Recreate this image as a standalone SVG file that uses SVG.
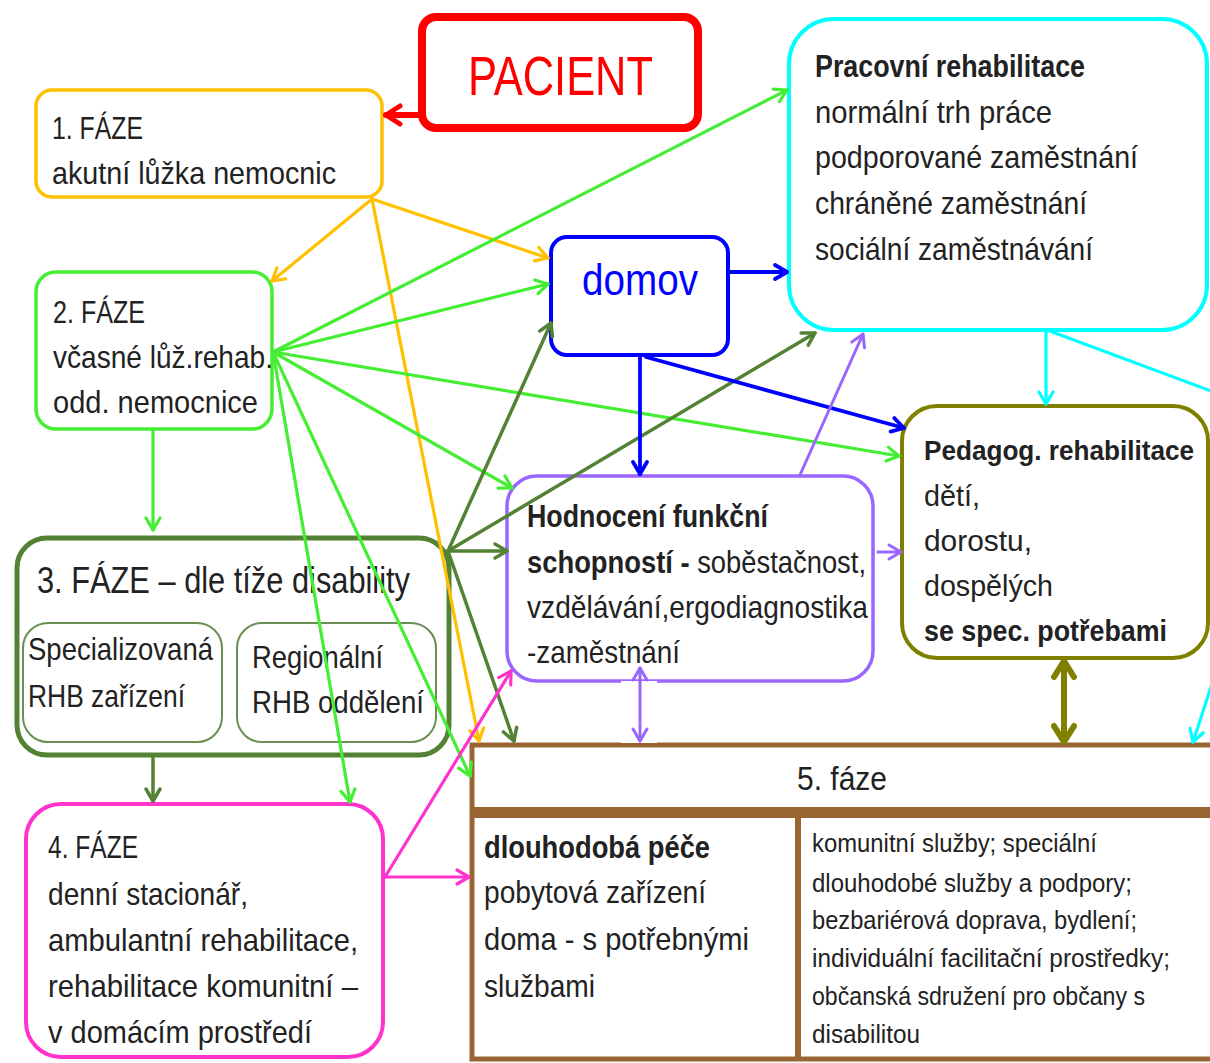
<svg xmlns="http://www.w3.org/2000/svg" width="1210" height="1063" viewBox="0 0 1210 1063">
<defs>
<style>
text{font-family:"Liberation Sans",Arial,sans-serif;fill:#222;font-size:32px}
.b{font-weight:bold}
.node{fill:#fff}
.c{fill:none;stroke-linecap:round;stroke-linejoin:round}
.or{stroke:#FFC000;stroke-width:3.2}
.gr{stroke:#44EE33;stroke-width:3.2}
.dg{stroke:#548235;stroke-width:3.5}
.bl{stroke:#0000FF;stroke-width:3.8}
.lv{stroke:#9966FF;stroke-width:3}
.ol{stroke:#808000;stroke-width:6}
.cy{stroke:#00FFFF;stroke-width:3.2}
.mg{stroke:#FF33CC;stroke-width:3.2}
.rd{stroke:#FF0000;stroke-width:6}
</style>
<marker id="a-or" viewBox="0 0 20 20" markerWidth="20" markerHeight="20" refX="16" refY="10" orient="auto-start-reverse" markerUnits="userSpaceOnUse"><path d="M4,3 L16,10 L4,17" fill="none" stroke="#FFC000" stroke-width="3.2" stroke-linecap="round" stroke-linejoin="round"/></marker>
<marker id="a-gr" viewBox="0 0 20 20" markerWidth="20" markerHeight="20" refX="16" refY="10" orient="auto-start-reverse" markerUnits="userSpaceOnUse"><path d="M4,3 L16,10 L4,17" fill="none" stroke="#44EE33" stroke-width="3.2" stroke-linecap="round" stroke-linejoin="round"/></marker>
<marker id="a-dg" viewBox="0 0 20 20" markerWidth="20" markerHeight="20" refX="16" refY="10" orient="auto-start-reverse" markerUnits="userSpaceOnUse"><path d="M4,3 L16,10 L4,17" fill="none" stroke="#548235" stroke-width="3.5" stroke-linecap="round" stroke-linejoin="round"/></marker>
<marker id="a-bl" viewBox="0 0 20 20" markerWidth="20" markerHeight="20" refX="16" refY="10" orient="auto-start-reverse" markerUnits="userSpaceOnUse"><path d="M4,3 L16,10 L4,17" fill="none" stroke="#0000FF" stroke-width="3.8" stroke-linecap="round" stroke-linejoin="round"/></marker>
<marker id="a-lv" viewBox="0 0 20 20" markerWidth="20" markerHeight="20" refX="16" refY="10" orient="auto-start-reverse" markerUnits="userSpaceOnUse"><path d="M4,3 L16,10 L4,17" fill="none" stroke="#9966FF" stroke-width="3" stroke-linecap="round" stroke-linejoin="round"/></marker>
<marker id="a-cy" viewBox="0 0 20 20" markerWidth="20" markerHeight="20" refX="16" refY="10" orient="auto-start-reverse" markerUnits="userSpaceOnUse"><path d="M4,3 L16,10 L4,17" fill="none" stroke="#00FFFF" stroke-width="3.2" stroke-linecap="round" stroke-linejoin="round"/></marker>
<marker id="a-mg" viewBox="0 0 20 20" markerWidth="20" markerHeight="20" refX="16" refY="10" orient="auto-start-reverse" markerUnits="userSpaceOnUse"><path d="M4,3 L16,10 L4,17" fill="none" stroke="#FF33CC" stroke-width="3.2" stroke-linecap="round" stroke-linejoin="round"/></marker>
<marker id="a-ol" viewBox="0 0 26 26" markerWidth="26" markerHeight="26" refX="21" refY="13" orient="auto-start-reverse" markerUnits="userSpaceOnUse"><path d="M5,3 L21,13 L5,23" fill="none" stroke="#808000" stroke-width="6" stroke-linecap="round" stroke-linejoin="round"/></marker>
<marker id="a-rd" viewBox="0 0 26 26" markerWidth="26" markerHeight="26" refX="21" refY="13" orient="auto-start-reverse" markerUnits="userSpaceOnUse"><path d="M7,4 L21,13 L7,22" fill="none" stroke="#FF0000" stroke-width="5" stroke-linecap="round" stroke-linejoin="round"/></marker>
</defs>
<rect x="0" y="0" width="1210" height="1063" fill="#fff"/>

<g id="pacient">
<rect class="node" x="422" y="17" width="276" height="111" rx="14" stroke="#FF0000" stroke-width="8"/>
<text x="468" y="95" textLength="185" lengthAdjust="spacingAndGlyphs" style="fill:#FF0000;font-size:56px">PACIENT</text>
</g>

<g id="faze1">
<rect class="node" x="36" y="90" width="346" height="107" rx="16" stroke="#FFC000" stroke-width="3.5"/>
<text x="52" y="139" textLength="91" lengthAdjust="spacingAndGlyphs">1. FÁZE</text>
<text x="52" y="184" textLength="284" lengthAdjust="spacingAndGlyphs">akutní lůžka nemocnic</text>
</g>

<g id="faze2">
<rect class="node" x="36" y="272" width="236" height="157" rx="20" stroke="#44EE33" stroke-width="3.5"/>
<text x="53" y="323" textLength="92" lengthAdjust="spacingAndGlyphs">2. FÁZE</text>
<text x="53" y="368" textLength="220" lengthAdjust="spacingAndGlyphs">včasné lůž.rehab.</text>
<text x="53" y="413" textLength="205" lengthAdjust="spacingAndGlyphs">odd. nemocnice</text>
</g>

<g id="faze3">
<rect class="node" x="17" y="538" width="432" height="217" rx="30" stroke="#548235" stroke-width="5"/>
<text x="37" y="593" textLength="373" lengthAdjust="spacingAndGlyphs" style="font-size:36px">3. FÁZE – dle tíže disability</text>
<g id="faze3-spec">
<rect class="node" x="23" y="623" width="199" height="119" rx="25" stroke="#6A8F52" stroke-width="2"/>
<text x="28" y="660" textLength="185" lengthAdjust="spacingAndGlyphs">Specializovaná</text>
<text x="28" y="707" textLength="157" lengthAdjust="spacingAndGlyphs">RHB zařízení</text>
</g>
<g id="faze3-reg">
<rect class="node" x="237" y="623" width="199" height="119" rx="25" stroke="#6A8F52" stroke-width="2"/>
<text x="252" y="668" textLength="131" lengthAdjust="spacingAndGlyphs">Regionální</text>
<text x="252" y="713" textLength="172" lengthAdjust="spacingAndGlyphs">RHB oddělení</text>
</g>
</g>

<g id="faze4">
<rect class="node" x="26" y="804" width="357" height="253" rx="35" stroke="#FF33CC" stroke-width="4"/>
<text x="48" y="858" textLength="90" lengthAdjust="spacingAndGlyphs">4. FÁZE</text>
<text x="48" y="905" textLength="200" lengthAdjust="spacingAndGlyphs">denní stacionář,</text>
<text x="48" y="951" textLength="310" lengthAdjust="spacingAndGlyphs">ambulantní rehabilitace,</text>
<text x="48" y="997" textLength="310" lengthAdjust="spacingAndGlyphs">rehabilitace komunitní –</text>
<text x="48" y="1043" textLength="264" lengthAdjust="spacingAndGlyphs">v domácím prostředí</text>
</g>

<g id="domov">
<rect class="node" x="551" y="237" width="177" height="118" rx="16" stroke="#0000FF" stroke-width="4"/>
<text x="582" y="295" textLength="116" lengthAdjust="spacingAndGlyphs" style="fill:#0000FF;font-size:45px">domov</text>
</g>

<g id="pracovni">
<rect class="node" x="789" y="19" width="418" height="311" rx="45" stroke="#00FFFF" stroke-width="4"/>
<text class="b" x="815" y="77" textLength="270" lengthAdjust="spacingAndGlyphs">Pracovní rehabilitace</text>
<text x="815" y="123" textLength="237" lengthAdjust="spacingAndGlyphs">normální trh práce</text>
<text x="815" y="168" textLength="323" lengthAdjust="spacingAndGlyphs">podporované zaměstnání</text>
<text x="815" y="214" textLength="272" lengthAdjust="spacingAndGlyphs">chráněné zaměstnání</text>
<text x="815" y="260" textLength="278" lengthAdjust="spacingAndGlyphs">sociální zaměstnávání</text>
</g>

<g id="pedagog">
<rect class="node" x="902" y="406" width="306" height="252" rx="35" stroke="#808000" stroke-width="4"/>
<text class="b" x="924" y="460" textLength="270" lengthAdjust="spacingAndGlyphs" style="font-size:27px">Pedagog. rehabilitace</text>
<text x="924" y="506" textLength="56" lengthAdjust="spacingAndGlyphs" style="font-size:30px">dětí,</text>
<text x="924" y="551" textLength="108" lengthAdjust="spacingAndGlyphs" style="font-size:30px">dorostu,</text>
<text x="924" y="596" textLength="129" lengthAdjust="spacingAndGlyphs" style="font-size:30px">dospělých</text>
<text class="b" x="924" y="641" textLength="243" lengthAdjust="spacingAndGlyphs" style="font-size:30px">se spec. potřebami</text>
</g>

<g id="hodnoceni">
<rect class="node" x="507" y="476" width="366" height="205" rx="30" stroke="#9966FF" stroke-width="3.5"/>
<text class="b" x="527" y="527" textLength="241" lengthAdjust="spacingAndGlyphs">Hodnocení funkční</text>
<text x="527" y="573" textLength="339" lengthAdjust="spacingAndGlyphs"><tspan class="b">schopností -</tspan> soběstačnost,</text>
<text x="527" y="618" textLength="341" lengthAdjust="spacingAndGlyphs">vzdělávání,ergodiagnostika</text>
<text x="527" y="663" textLength="153" lengthAdjust="spacingAndGlyphs">-zaměstnání</text>
</g>

<g id="faze5">
<rect x="472" y="745" width="760" height="314" fill="#fff" stroke="#996633" stroke-width="5"/>
<rect x="472" y="807" width="760" height="11" fill="#996633"/>
<line x1="798" y1="818" x2="798" y2="1060" stroke="#996633" stroke-width="6"/>
<text x="797" y="790" textLength="90" lengthAdjust="spacingAndGlyphs" style="font-size:34px">5. fáze</text>
<text class="b" x="484" y="858" textLength="226" lengthAdjust="spacingAndGlyphs">dlouhodobá péče</text>
<text x="484" y="903" textLength="222" lengthAdjust="spacingAndGlyphs">pobytová zařízení</text>
<text x="484" y="950" textLength="265" lengthAdjust="spacingAndGlyphs">doma - s potřebnými</text>
<text x="484" y="997" textLength="111" lengthAdjust="spacingAndGlyphs">službami</text>
<text x="812" y="852" textLength="285" lengthAdjust="spacingAndGlyphs" style="font-size:25px">komunitní služby; speciální</text>
<text x="812" y="892" textLength="320" lengthAdjust="spacingAndGlyphs" style="font-size:25px">dlouhodobé služby a podpory;</text>
<text x="812" y="929" textLength="325" lengthAdjust="spacingAndGlyphs" style="font-size:25px">bezbariérová doprava, bydlení;</text>
<text x="812" y="967" textLength="358" lengthAdjust="spacingAndGlyphs" style="font-size:25px">individuální facilitační prostředky;</text>
<text x="812" y="1005" textLength="333" lengthAdjust="spacingAndGlyphs" style="font-size:25px">občanská sdružení pro občany s</text>
<text x="812" y="1043" textLength="108" lengthAdjust="spacingAndGlyphs" style="font-size:25px">disabilitou</text>
</g>

<g id="connectors">
<path class="c rd" d="M420,115 L386,115" marker-end="url(#a-rd)"/>
<path class="c or" d="M372,199 L272,281" marker-end="url(#a-or)"/>
<path class="c or" d="M372,199 L548,258" marker-end="url(#a-or)"/>
<path class="c or" d="M372,199 L479,741" marker-end="url(#a-or)"/>
<path class="c gr" d="M273,352 L787,90" marker-end="url(#a-gr)"/>
<path class="c gr" d="M273,352 L548,284" marker-end="url(#a-gr)"/>
<path class="c gr" d="M273,352 L899,456" marker-end="url(#a-gr)"/>
<path class="c gr" d="M273,352 L512,488" marker-end="url(#a-gr)"/>
<path class="c gr" d="M273,352 L350,802" marker-end="url(#a-gr)"/>
<path class="c gr" d="M273,352 L470,776" marker-end="url(#a-gr)"/>
<path class="c gr" d="M153,430 L153,530" marker-end="url(#a-gr)"/>
<path class="c dg" d="M448,551 L551,323" marker-end="url(#a-dg)"/>
<path class="c dg" d="M448,551 L815,333" marker-end="url(#a-dg)"/>
<path class="c dg" d="M448,551 L507,551" marker-end="url(#a-dg)"/>
<path class="c dg" d="M448,551 L514,741" marker-end="url(#a-dg)"/>
<path class="c dg" d="M153,757 L153,801" marker-end="url(#a-dg)"/>
<path class="c bl" d="M728,272 L787,272" marker-end="url(#a-bl)"/>
<path class="c bl" d="M640,356 L640,474" marker-end="url(#a-bl)"/>
<path class="c bl" d="M646,357 L904,428" marker-end="url(#a-bl)"/>
<path class="c lv" d="M800,475 L863,334" marker-end="url(#a-lv)"/>
<path class="c lv" d="M878,552 L901,552" marker-end="url(#a-lv)"/>
<rect x="621" y="681" width="36" height="62" fill="#fff"/>
<path class="c lv" d="M640,668 L640,741" marker-start="url(#a-lv)" marker-end="url(#a-lv)"/>
<path class="c ol" d="M1064,661 L1064,742" marker-start="url(#a-ol)" marker-end="url(#a-ol)"/>
<path class="c cy" d="M1046,331 L1046,404" marker-end="url(#a-cy)"/>
<path class="c cy" d="M1047,330 L1297,423 L1193,742" marker-end="url(#a-cy)"/>
<path class="c mg" d="M385,877 L511,671" marker-end="url(#a-mg)"/>
<path class="c mg" d="M385,877 L469,877" marker-end="url(#a-mg)"/>
</g>
</svg>
